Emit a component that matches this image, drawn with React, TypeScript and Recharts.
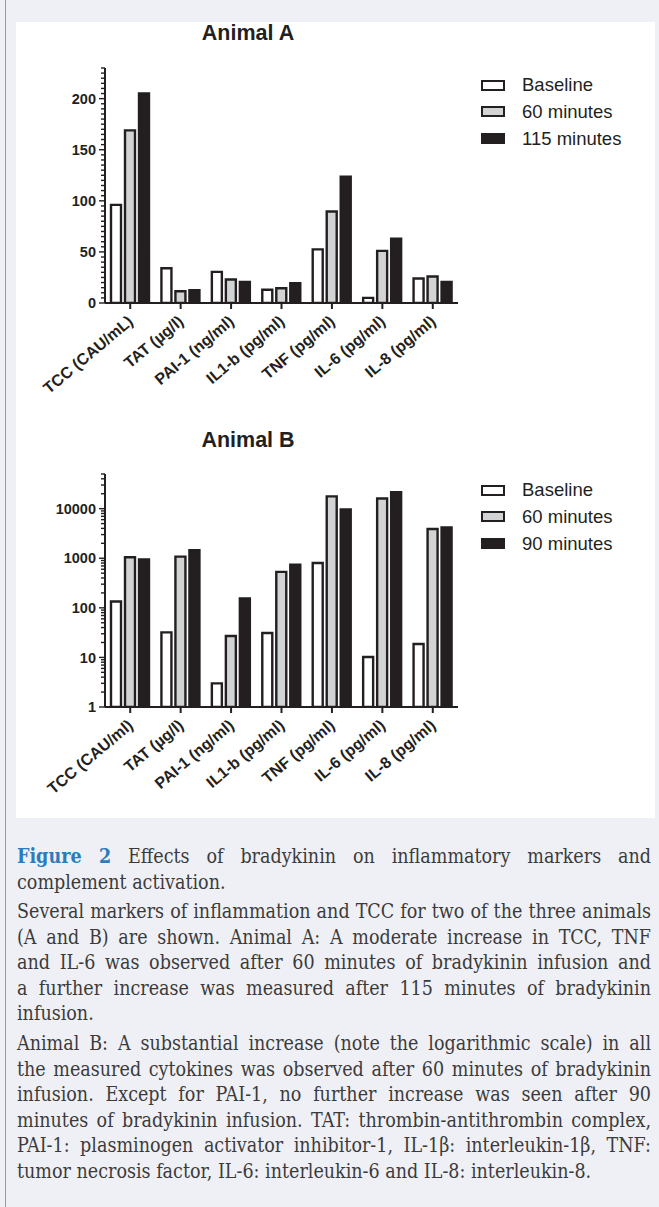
import React from 'react';
import { BarChart, Bar, XAxis, YAxis } from 'recharts';

const INK = '#231f20';
const GRAY = '#d1d3d4';
const SANS = '"Liberation Sans", Arial, Helvetica, sans-serif';
const SERIF = '"DejaVu Serif Condensed", "Liberation Serif", "Times New Roman", serif';

// ---------- data ----------
const categoriesA = ['TCC (CAU/mL)', 'TAT (µg/l)', 'PAI-1 (ng/ml)', 'IL1-b (pg/ml)', 'TNF (pg/ml)', 'IL-6 (pg/ml)', 'IL-8 (pg/ml)'];
const categoriesB = ['TCC (CAU/ml)', 'TAT (µg/l)', 'PAI-1 (ng/ml)', 'IL1-b (pg/ml)', 'TNF (pg/ml)', 'IL-6 (pg/ml)', 'IL-8 (pg/ml)'];

const seriesNamesA = ['Baseline', '60 minutes', '115 minutes'];
const seriesNamesB = ['Baseline', '60 minutes', '90 minutes'];
const seriesFills = ['#ffffff', GRAY, INK];

const baselineA = [96, 34, 30.5, 13, 52.5, 5, 24];
const min60A = [169, 11.5, 23, 14.5, 89.5, 51, 26];
const min115A = [205, 12.5, 20.5, 19.5, 123.5, 63, 20.5];

const baselineB = [134, 32, 3, 31, 800, 10.2, 18.6];
const min60B = [1050, 1080, 27, 530, 17700, 16000, 3900];
const min90B = [950, 1450, 154, 740, 9600, 21400, 4200];

const majorTicksA = [0, 50, 100, 150, 200];
const axisMaxA = 230;
const majorTicksB = [1, 10, 100, 1000, 10000];
const axisMaxB = 50000;

const titleA = 'Animal A';
const titleB = 'Animal B';

// tick arrays (minor every 5 on linear axis, 1..9 per decade on log axis)
const ticksA: number[] = [];
for (let v = 0; v <= axisMaxA; v += 5) ticksA.push(v);
const ticksB: number[] = [];
for (const d of majorTicksB) {
  for (let m = 1; m <= 9; m++) {
    const v = d * m;
    if (v <= axisMaxB) ticksB.push(v);
  }
}

const rowsA = categoriesA.map((name, i) => ({ name, s0: baselineA[i], s1: min60A[i], s2: min115A[i] }));
const rowsB = categoriesB.map((name, i) => ({ name, s0: baselineB[i], s1: min60B[i], s2: min90B[i] }));

// ---------- ticks ----------
const makeYTick = (isMajor: (v: number) => boolean) => (props: any) => {
  const { x, y, payload } = props;
  const v = payload.value;
  const major = isMajor(v);
  return (
    <g>
      <line x1={x - (major ? 6 : 4)} x2={x} y1={y} y2={y} stroke={INK} strokeWidth={1.4} />
      {major && (
        <text x={x - 9} y={y} dy="0.36em" textAnchor="end" fontFamily={SANS} fontWeight="bold" fontSize={14.5} fill={INK}>
          {v}
        </text>
      )}
    </g>
  );
};

const yTickA = makeYTick((v) => majorTicksA.includes(v));
const yTickB = makeYTick((v) => majorTicksB.includes(v));

const XTick = (props: any) => {
  const { x, y, payload } = props;
  const ax = x + 4;
  const ay = y + 12;
  return (
    <text
      x={ax}
      y={ay}
      transform={`rotate(-40 ${ax} ${ay})`}
      textAnchor="end"
      fontFamily={SANS}
      fontWeight="bold"
      fontSize={16}
      fill={INK}
    >
      {payload.value}
    </text>
  );
};

// ---------- legend ----------
const HtmlLegend = ({ top, names }: { top: number; names: string[] }) => (
  <div style={{ position: 'absolute', left: 481, top }}>
    {names.map((n, i) => (
      <div
        key={n}
        style={{ position: 'absolute', left: 0, top: i * 26.8, height: 20, display: 'flex', alignItems: 'center', whiteSpace: 'nowrap' }}
      >
        <div style={{ width: 24, height: 11, boxSizing: 'border-box', border: `2.5px solid ${INK}`, background: seriesFills[i] }} />
        <span style={{ marginLeft: 17, fontFamily: SANS, fontSize: 18.5, color: INK }}>{n}</span>
      </div>
    ))}
  </div>
);

const Title = ({ top, text }: { top: number; text: string }) => (
  <div
    style={{ position: 'absolute', left: 148, width: 200, top, textAlign: 'center', fontFamily: SANS, fontWeight: 'bold', fontSize: 21.5, color: INK, lineHeight: '24px' }}
  >
    {text}
  </div>
);

const bars = (names: string[]) =>
  names.map((n, i) => (
    <Bar key={n} dataKey={`s${i}`} name={n} fill={seriesFills[i]} stroke={INK} strokeWidth={2.4} barSize={10} isAnimationActive={false} />
  ));

// ---------- caption ----------
type Line = { text: React.ReactNode; last?: boolean };
const para1: Line[] = [
  { text: <><span style={{ color: '#2a7bbf', fontWeight: 'bold' }}>Figure 2</span> Effects of bradykinin on inflammatory markers and</> },
  { text: 'complement activation.', last: true },
];
const para2: Line[] = [
  { text: 'Several markers of inflammation and TCC for two of the three animals' },
  { text: '(A and B) are shown. Animal A: A moderate increase in TCC, TNF' },
  { text: 'and IL-6 was observed after 60 minutes of bradykinin infusion and' },
  { text: 'a further increase was measured after 115 minutes of bradykinin' },
  { text: 'infusion.', last: true },
];
const para3: Line[] = [
  { text: 'Animal B: A substantial increase (note the logarithmic scale) in all' },
  { text: 'the measured cytokines was observed after 60 minutes of bradykinin' },
  { text: 'infusion. Except for PAI-1, no further increase was seen after 90' },
  { text: 'minutes of bradykinin infusion. TAT: thrombin-antithrombin complex,' },
  { text: 'PAI-1: plasminogen activator inhibitor-1, IL-1β: interleukin-1β, TNF:' },
  { text: 'tumor necrosis factor, IL-6: interleukin-6 and IL-8: interleukin-8.', last: true },
];

const Para = ({ top, lines }: { top: number; lines: Line[] }) => (
  <div style={{ position: 'absolute', left: 17, width: 634, top }}>
    {lines.map((l, i) => (
      <div
        key={i}
        style={{
          height: 25.6,
          lineHeight: '25.6px',
          fontFamily: SERIF,
          fontSize: 19.5,
          color: '#3b3b3b',
          textAlign: l.last ? 'left' : 'justify',
          textAlignLast: l.last ? 'left' : 'justify',
          whiteSpace: 'nowrap',
        } as React.CSSProperties}
      >
        {l.text}
      </div>
    ))}
  </div>
);

export default function App() {
  return (
    <div style={{ position: 'absolute', left: 0, top: 0, width: 659, height: 1207, background: '#eff0f5', overflow: 'hidden' }}>
      <div style={{ position: 'absolute', left: 5, top: 0, width: 1, height: 1207, background: '#9a9a9a' }} />
      <div style={{ position: 'absolute', left: 16, top: 22, width: 639, height: 796, background: '#ffffff' }} />

      <Title top={21} text={titleA} />
      <div style={{ position: 'absolute', left: 0, top: 0 }}>
        <BarChart width={659} height={410} data={rowsA} margin={{ top: 68, right: 201, bottom: 0, left: 5 }} barGap={4}>
          <XAxis
            dataKey="name"
            interval={0}
            tickSize={6}
            tickLine={{ stroke: INK, strokeWidth: 2 }}
            axisLine={{ stroke: INK, strokeWidth: 2 }}
            height={107}
            tick={<XTick />}
          />
          <YAxis
            type="number"
            domain={[0, axisMaxA]}
            ticks={ticksA}
            interval={0}
            width={100}
            tickSize={0}
            tickMargin={0}
            tickLine={false}
            axisLine={{ stroke: INK, strokeWidth: 2 }}
            tick={yTickA}
            allowDataOverflow
          />
          {bars(seriesNamesA)}
        </BarChart>
      </div>
      <HtmlLegend top={75} names={seriesNamesA} />

      <Title top={428} text={titleB} />
      <div style={{ position: 'absolute', left: 0, top: 410 }}>
        <BarChart width={659} height={400} data={rowsB} margin={{ top: 64, right: 201, bottom: 0, left: 5 }} barGap={4}>
          <XAxis
            dataKey="name"
            interval={0}
            tickSize={6}
            tickLine={{ stroke: INK, strokeWidth: 2 }}
            axisLine={{ stroke: INK, strokeWidth: 2 }}
            height={103}
            tick={<XTick />}
          />
          <YAxis
            type="number"
            scale="log"
            domain={[1, axisMaxB]}
            ticks={ticksB}
            interval={0}
            width={100}
            tickSize={0}
            tickMargin={0}
            tickLine={false}
            axisLine={{ stroke: INK, strokeWidth: 2 }}
            tick={yTickB}
            allowDataOverflow
          />
          {bars(seriesNamesB)}
        </BarChart>
      </div>
      <HtmlLegend top={480} names={seriesNamesB} />

      <Para top={844} lines={para1} />
      <Para top={899} lines={para2} />
      <Para top={1031} lines={para3} />
    </div>
  );
}
